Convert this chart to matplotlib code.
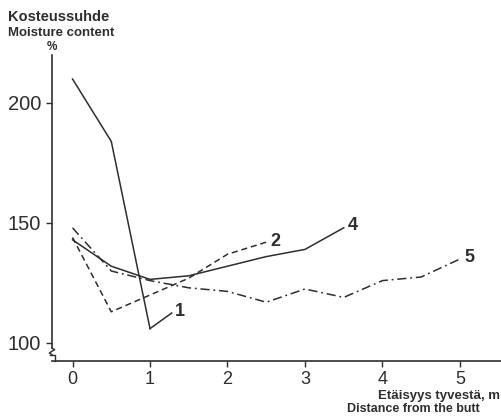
import matplotlib
matplotlib.use("Agg")
import matplotlib.pyplot as plt
from matplotlib.lines import Line2D

# Moisture content (%) along the stem, distance from the butt (m)
x1 = [0.0, 0.5, 1.0]
y1 = [210, 184, 106]

x2 = [0.0, 0.5, 1.0, 1.5, 2.0, 2.5]
y2 = [144, 113, 120, 127, 137, 142]

x4 = [0.0, 0.5, 1.0, 1.5, 2.0, 2.5, 3.0, 3.5]
y4 = [143, 132, 126.5, 128, 132, 136, 139, 148]

x5 = [0.0, 0.5, 1.0, 1.5, 2.0, 2.5, 3.0, 3.5, 4.0, 4.5, 5.0]
y5 = [148, 130, 126, 123, 121.5, 117, 122.5, 119, 126, 127.5, 135]

xticks = [0, 1, 2, 3, 4, 5]
yticks = [100, 150, 200]

INK = "#2e2e2e"
plt.rcParams["font.family"] = ["Liberation Sans", "DejaVu Sans"]

fig = plt.figure(figsize=(5.01, 4.16), dpi=100)
ax = fig.add_axes([52 / 501, 1 - 361 / 416, 1 - 52 / 501, (361 - 55) / 416])
ax.set_xlim(-0.265, 5.53)
ax.set_ylim(92.5, 220)

lw = 1.1
ax.plot(x1, y1, color=INK, lw=lw)
ax.plot([x1[-1], 1.28], [y1[-1], 112.5], color=INK, lw=lw)
ax.plot(x2, y2, color=INK, lw=lw, dashes=(4, 2.5))
ax.plot(x4, y4, color=INK, lw=lw)
ax.plot(x5, y5, color=INK, lw=lw, dashes=(6, 2.5, 1.2, 2.5))

lab_kw = dict(color=INK, fontsize=13, fontweight="bold", va="center", ha="left")
ax.text(1.32, 113, "1", **lab_kw)
ax.text(2.55, 142.5, "2", **lab_kw)
ax.text(3.55, 149, "4", **lab_kw)
ax.text(5.06, 135.5, "5", **lab_kw)

# axes frame: bottom spine only, left axis drawn by hand with a break
for s in ("top", "right", "left"):
    ax.spines[s].set_visible(False)
ax.spines["bottom"].set_color(INK)
ax.spines["bottom"].set_linewidth(1.2)

tr = ax.get_yaxis_transform()
ax.add_line(Line2D([0, 0], [220, 97.8], transform=tr, color=INK, lw=1.2, clip_on=False))
ax.add_line(Line2D([0, 0.006, 0.0, -0.006, 0.0], [97.8, 97.2, 96.6, 95.8, 95.2],
                   transform=tr, color=INK, lw=1.0, clip_on=False))
ax.add_line(Line2D([-0.004, 0.006, 0.006], [94.8, 94.8, 92.5],
                   transform=tr, color=INK, lw=1.0, clip_on=False))

ax.set_xticks(xticks)
ax.set_yticks(yticks)
ax.tick_params(axis="both", colors=INK, length=4, width=1.0, direction="out")
ax.tick_params(axis="x", labelsize=13, pad=3)
ax.tick_params(axis="y", labelsize=14.5, pad=4)
for t in ax.get_xticklabels() + ax.get_yticklabels():
    t.set_color(INK)

fig.text(8 / 501, 1 - 17 / 416, "Kosteussuhde", color=INK, fontsize=10.5,
         fontweight="bold", va="center", ha="left")
fig.text(8 / 501, 1 - 33 / 416, "Moisture content", color=INK, fontsize=9.5,
         fontweight="bold", va="center", ha="left")
fig.text(52 / 501, 1 - 47 / 416, "%", color=INK, fontsize=8.5,
         fontweight="bold", va="center", ha="center")
fig.text(500 / 501, 1 - 396 / 416, "Etäisyys tyvestä, m", color=INK, fontsize=9.5,
         fontweight="bold", va="center", ha="right")
fig.text(347 / 501, 1 - 409 / 416, "Distance from the butt", color=INK, fontsize=9,
         fontweight="bold", va="center", ha="left")

fig.savefig("out.png", dpi=100, facecolor="white")
